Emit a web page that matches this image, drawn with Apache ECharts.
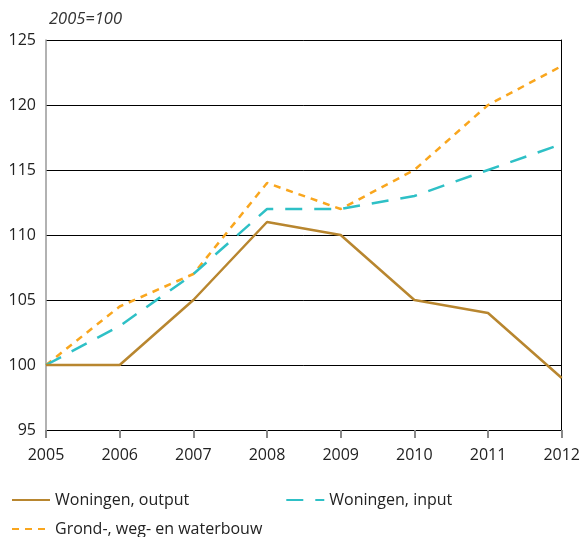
<!DOCTYPE html>
<html>
<head>
<meta charset="utf-8">
<script src="https://cdn.jsdelivr.net/npm/echarts@6/dist/echarts.min.js"></script>
<style>
  html, body { margin: 0; padding: 0; background: #fff; }
  #main { width: 583px; height: 537px; }
</style>
</head>
<body>
<div id="main"></div>
<script>
// jaren en indexreeksen (2005=100)
var years = ['2005', '2006', '2007', '2008', '2009', '2010', '2011', '2012'];
var outputWon = [100, 100, 105, 111, 110, 105, 104, 99];
var inputWon = [100, 103, 107, 112, 112, 113, 115, 117];
var grondWeg = [100, 104.5, 107, 114, 112, 115, 120, 123];

var names = ['Woningen, output', 'Woningen, input', 'Grond-, weg- en waterbouw'];
var colors = ['#b8862f', '#2ec0c6', '#f9a61e'];
var fontName = '"Open Sans", "Noto Sans", sans-serif';

var main = echarts.init(document.getElementById('main'));
var legendText = { fontFamily: fontName, fontSize: 16, color: '#222' };
var option = {
    animation: false,
    title: {
        text: '2005=100',
        left: 44,
        top: 6,
        textStyle: {
            fontFamily: fontName,
            fontSize: 16.5,
            fontStyle: 'italic',
            fontWeight: 'normal',
            color: '#333'
        }
    },
    grid: {
        left: 46,
        right: 20,
        top: 40,
        bottom: 107
    },
    legend: [
        {
            data: [names[0], names[1]],
            left: 6,
            top: 487,
            itemGap: 96,
            itemWidth: 38,
            itemHeight: 12,
            itemStyle: { opacity: 0 },
            textStyle: legendText
        },
        {
            data: [names[2]],
            left: 6,
            top: 516,
            itemWidth: 38,
            itemHeight: 12,
            itemStyle: { opacity: 0 },
            textStyle: legendText
        }
    ],
    xAxis: {
        type: 'category',
        boundaryGap: false,
        data: years,
        axisLine: { lineStyle: { color: '#000', width: 1 } },
        axisTick: { show: true, length: 8, lineStyle: { color: '#888', width: 2 } },
        axisLabel: { fontFamily: fontName, fontSize: 16, color: '#222', margin: 17 },
        splitLine: { show: false }
    },
    yAxis: [
        {
            type: 'value',
            min: 95,
            max: 125,
            interval: 5,
            axisLine: { show: true, lineStyle: { color: '#999', width: 1.5 } },
            axisTick: { show: false },
            axisLabel: { fontFamily: fontName, fontSize: 16, color: '#222', margin: 10 },
            splitLine: { lineStyle: { color: '#000', width: 1 } }
        },
        {
            type: 'value',
            position: 'right',
            min: 95,
            max: 125,
            interval: 5,
            axisLine: { show: true, lineStyle: { color: '#000', width: 1 } },
            axisTick: { show: false },
            axisLabel: { show: false },
            splitLine: { show: false }
        }
    ],
    series: [
        {
            name: names[0],
            type: 'line',
            data: outputWon,
            symbol: 'none',
            z: 3,
            itemStyle: { color: colors[0] },
            lineStyle: { color: colors[0], width: 2.5 }
        },
        {
            name: names[1],
            type: 'line',
            data: inputWon,
            symbol: 'none',
            z: 2,
            itemStyle: { color: colors[1] },
            lineStyle: { color: colors[1], width: 2.5, type: [17, 12] }
        },
        {
            name: names[2],
            type: 'line',
            data: grondWeg,
            symbol: 'none',
            z: 1,
            itemStyle: { color: colors[2] },
            lineStyle: { color: colors[2], width: 2.5, type: [7, 6] }
        }
    ]
};
main.setOption(option);
</script>
</body>
</html>
